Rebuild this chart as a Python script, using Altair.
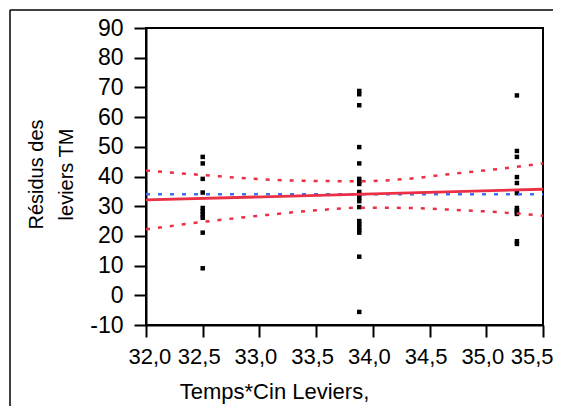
import altair as alt
import pandas as pd

# ---- data ----
x_ticks = [32.0, 32.5, 33.0, 33.5, 34.0, 34.5, 35.0, 35.5]
y_ticks = [-10, 0, 10, 20, 30, 40, 50, 60, 70, 80, 90]

g1_x = 32.5
g1_y = [46.6, 44.4, 39.2, 34.6, 29.4, 28.3, 27.2, 26.1, 21.1, 9.1]
g2_x = 33.88
g2_y = [68.8, 67.7, 64.0, 49.9, 44.4, 39.2, 38.3, 37.5, 34.8, 33.8, 32.8,
        31.7, 29.7, 25.0, 24.0, 23.0, 22.0, 21.1, 13.0, -5.6]
g3_x = 35.27
g3_y = [67.3, 48.6, 46.6, 39.8, 37.8, 34.4, 29.4, 28.7, 28.0, 27.4, 18.2, 17.3]

fit_x = [32.0, 35.5]
fit_y = [32.1, 35.7]

mean_x = [32.0, 35.5]
mean_y = [34.0, 34.0]

ci_x = [32.0, 32.5, 33.0, 33.5, 33.9, 34.3, 34.7, 35.1, 35.5]
ci_upper = [42.0, 40.5, 39.1, 38.5, 38.4, 39.2, 40.9, 42.5, 44.4]
ci_lower = [22.2, 24.7, 26.8, 28.6, 29.5, 29.4, 28.8, 28.0, 26.8]

x_title = "Temps*Cin Leviers,"
y_title = ["Résidus des", "leviers TM"]

FONT = "Liberation Sans"
W, H = 397, 297

pts = pd.DataFrame(
    [{"x": g1_x, "y": v} for v in g1_y]
    + [{"x": g2_x, "y": v} for v in g2_y]
    + [{"x": g3_x, "y": v} for v in g3_y]
)
fit = pd.DataFrame({"x": fit_x, "y": fit_y})
mean = pd.DataFrame({"x": mean_x, "y": mean_y})
up = pd.DataFrame({"x": ci_x, "y": ci_upper})
lo = pd.DataFrame({"x": ci_x, "y": ci_lower})

xs = alt.Scale(domain=[32.0, 35.5], nice=False, zero=False)
ys = alt.Scale(domain=[-10, 90], nice=False, zero=False)

x_axis = alt.Axis(
    values=x_ticks,
    labelExpr="replace(format(datum.value, '.1f'), '.', ',')",
    title=x_title,
    grid=False,
    tickSize=12, tickWidth=2, tickColor="black",
    domainColor="black", domainWidth=2,
    labelFont=FONT, labelFontSize=22, labelColor="black", labelPadding=9,
    labelOverlap=False, labelFlush=True, labelFlushOffset=14, labelOffset=-4,
    titleFont=FONT, titleFontSize=22, titleFontWeight="normal", titleColor="black",
    titleX=128, titleY=56, titleAnchor="start", titleAlign="center",
)
y_axis = alt.Axis(
    values=y_ticks,
    labelExpr="datum.value < 0 ? '-' + abs(datum.value) : '' + datum.value",
    title=y_title,
    grid=False,
    tickSize=12, tickWidth=2, tickColor="black",
    domainColor="black", domainWidth=2,
    labelFont=FONT, labelFontSize=23, labelColor="black", labelPadding=11,
    labelOverlap=False, labelFlush=False,
    titleFont=FONT, titleFontSize=20, titleFontWeight="normal", titleColor="black",
    titleX=-100, titleY=146, titleAlign="center", titleBaseline="bottom",
    titleLineHeight=30, titleAngle=270,
)

X = alt.X("x:Q", scale=xs, axis=x_axis)
Y = alt.Y("y:Q", scale=ys, axis=y_axis)

frame_src = pd.DataFrame({"a": [0]})
box_top = alt.Chart(frame_src).mark_rule(color="black", strokeWidth=1.5).encode(
    x=alt.value(-136), x2=alt.value(W + 100), y=alt.value(-18)
)
box_left = alt.Chart(frame_src).mark_rule(color="black", strokeWidth=1.5).encode(
    x=alt.value(-136), y=alt.value(-18), y2=alt.value(H + 200)
)

points = alt.Chart(pts).mark_square(size=20, color="black", opacity=1).encode(
    x=X, y=Y
)
mean_line = alt.Chart(mean).mark_line(
    color="#3d72ea", strokeWidth=2.5, strokeDash=[4, 8]
).encode(x=X, y=Y)
upper_line = alt.Chart(up).mark_line(
    color="#eb2f45", strokeWidth=2.5, strokeDash=[4, 8], interpolate="monotone"
).encode(x=X, y=Y)
lower_line = alt.Chart(lo).mark_line(
    color="#eb2f45", strokeWidth=2.5, strokeDash=[4, 8], interpolate="monotone"
).encode(x=X, y=Y)
fit_line = alt.Chart(fit).mark_line(color="#eb2f45", strokeWidth=2.8).encode(
    x=X, y=Y
)

chart = alt.layer(
    box_top, box_left, points, mean_line, upper_line, lower_line, fit_line
).properties(
    width=W, height=H,
    autosize=alt.AutoSizeParams(type="none"),
    padding={"left": 138, "top": 20, "right": 10, "bottom": 81},
    background="white",
).configure_view(
    stroke="black", strokeWidth=2
)

chart.save("out.html", embed_options={"renderer": "svg", "actions": False})
